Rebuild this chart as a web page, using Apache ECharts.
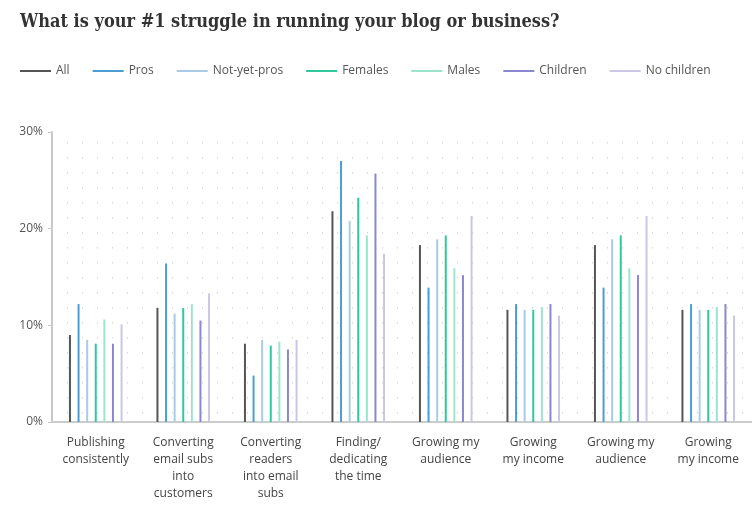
<!DOCTYPE html>
<html>
<head>
<meta charset="utf-8">
<script src="https://cdn.jsdelivr.net/npm/echarts@6/dist/echarts.min.js"></script>
<style>
html,body{margin:0;padding:0;background:#fff;}
#chart{width:752px;height:508px;}
</style>
</head>
<body>
<div id="chart"></div>
<script>
var categories = [
  "Publishing\nconsistently",
  "Converting\nemail subs\ninto\ncustomers",
  "Converting\nreaders\ninto email\nsubs",
  "Finding/\ndedicating\nthe time",
  "Growing my\naudience",
  "Growing\nmy income",
  "Growing my\naudience",
  "Growing\nmy income"
];
var seriesNames = ["All", "Pros", "Not-yet-pros", "Females", "Males", "Children", "No children"];
var allValues        = [9.0, 11.8, 8.1, 21.8, 18.3, 11.6, 18.3, 11.6];
var prosValues       = [12.2, 16.4, 4.8, 27.0, 13.9, 12.2, 13.9, 12.2];
var notYetProsValues = [8.5, 11.2, 8.5, 20.8, 18.9, 11.6, 18.9, 11.6];
var femalesValues    = [8.1, 11.8, 7.9, 23.2, 19.3, 11.6, 19.3, 11.6];
var malesValues      = [10.6, 12.2, 8.3, 19.3, 15.9, 11.9, 15.9, 11.9];
var childrenValues   = [8.1, 10.5, 7.5, 25.7, 15.2, 12.2, 15.2, 12.2];
var noChildrenValues = [10.1, 13.3, 8.5, 17.4, 21.3, 11.0, 21.3, 11.0];
var yTicks = [0, 10, 20, 30];

var colors = ["#555555", "#4c9dd3", "#a9cbe8", "#2fc89c", "#9de4cd", "#8a86cf", "#c9c7e5"];
var valueSets = [allValues, prosValues, notYetProsValues, femalesValues, malesValues, childrenValues, noChildrenValues];

// faint dot pattern for plot background
var pc = document.createElement('canvas');
pc.width = 15; pc.height = 15;
var pctx = pc.getContext('2d');
pctx.fillStyle = '#d6d6d6';
pctx.fillRect(7, 7, 1, 1.5);

var chart = echarts.init(document.getElementById('chart'), null, {renderer: 'canvas'});
var series = seriesNames.map(function (name, i) {
  return {
    name: name,
    type: 'bar',
    data: valueSets[i],
    barWidth: 2,
    barGap: '330%',
    itemStyle: {color: colors[i]},
    emphasis: {disabled: true}
  };
});

chart.setOption({
  animation: false,
  backgroundColor: '#ffffff',
  color: colors,
  title: {
    text: 'What is your #1 struggle in running your blog or business?',
    left: 20,
    top: 13,
    padding: 0,
    textStyle: {fontFamily: '"DejaVu Serif Condensed", "Liberation Serif", serif', fontWeight: 'bold', fontSize: 18, color: '#333333'}
  },
  legend: {
    left: 20,
    top: 65,
    padding: 0,
    icon: 'rect',
    itemWidth: 31,
    itemHeight: 2,
    itemGap: 23,
    textStyle: {fontFamily: 'Open Sans', fontSize: 12, color: '#555555'},
    data: seriesNames
  },
  grid: {
    left: 52,
    right: 0,
    top: 132,
    bottom: 86,
    show: true,
    borderWidth: 0,
    backgroundColor: {image: pc, repeat: 'repeat'}
  },
  xAxis: {
    type: 'category',
    data: categories,
    axisLine: {lineStyle: {color: '#cccccc', width: 2}},
    axisTick: {show: false},
    axisLabel: {
      interval: 0,
      margin: 12,
      fontFamily: 'Open Sans',
      fontSize: 12,
      lineHeight: 17,
      color: '#444444'
    }
  },
  yAxis: {
    type: 'value',
    min: yTicks[0],
    max: yTicks[yTicks.length - 1],
    interval: 10,
    axisLine: {show: true, lineStyle: {color: '#c8c8c8', width: 2}},
    axisTick: {show: true, length: 4, lineStyle: {color: '#c8c8c8'}},
    splitLine: {show: false},
    axisLabel: {
      formatter: '{value}%',
      margin: 9,
      fontFamily: 'Open Sans',
      fontSize: 12,
      color: '#555555'
    }
  },
  series: series
});
</script>
</body>
</html>
